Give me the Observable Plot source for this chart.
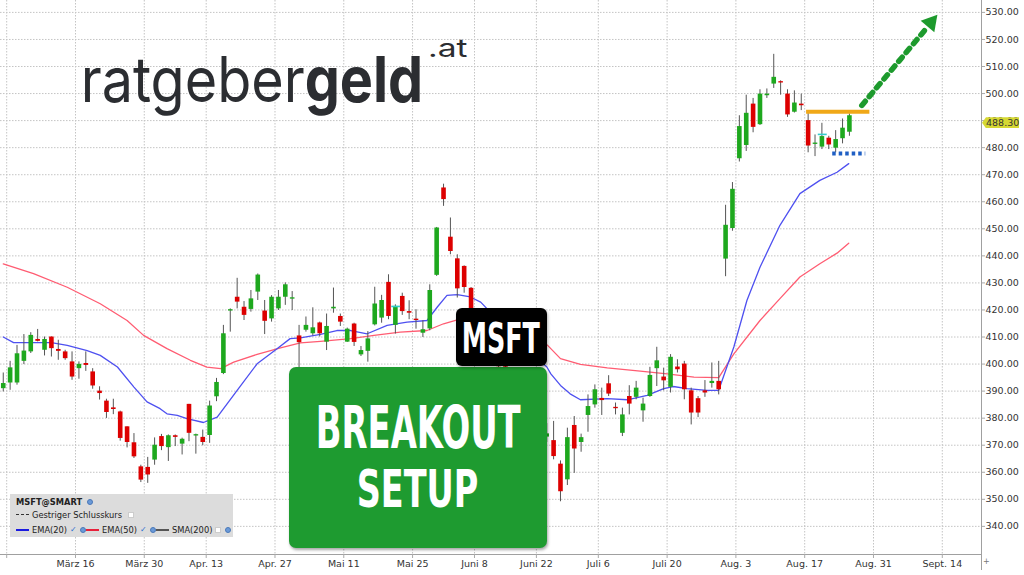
<!DOCTYPE html>
<html><head><meta charset="utf-8">
<script src="https://cdn.jsdelivr.net/npm/d3@7"></script>
<script src="https://cdn.jsdelivr.net/npm/@observablehq/plot@0.6"></script>
<style>
body{margin:0;background:#fff;}
#wrap{position:relative;width:1024px;height:575px;overflow:hidden;font-family:"DejaVu Sans",sans-serif;}
#wrap > svg{position:absolute;left:0;top:0;}
.ov{position:absolute;}
.lg{position:absolute;white-space:nowrap;line-height:10px;font-size:8.3px;color:#222;}
.gear{position:absolute;width:6px;height:6px;border-radius:50%;background:#6b9ad8;border:1px solid #4a78b8;box-sizing:border-box;}
.chk{position:absolute;width:6px;height:6px;background:#fff;border:1px solid #ccc;box-sizing:border-box;}
.tick{position:absolute;color:#2a6fd0;font-size:8px;line-height:10px;}
.ln{position:absolute;height:0;width:13px;}
</style></head><body><div id="wrap"></div>
<script>
// ---- data (candle index j starts at firstIndex; tick index 0 = "März 16") ----
const firstIndex = -11;
const open = [390.9,393.0,393.0,401.0,404.5,409.1,405.1,410.0,405.4,404.5,400.8,
 398.3,400.2,397.1,390.0,386.3,383.8,382.3,376.8,370.9,362.0,361.8,364.5,
 373.2,369.1,373.5,370.4,385.1,373.4,372.9,373.6,387.9,396.5,419.6,424.7,
 421.0,420.2,426.6,419.6,416.7,420.4,424.7,424.0,410.4,412.5,411.2,415.2,
 408.1,420.4,417.6,408.1,414.8,403.4,404.7,414.5,417.0,430.2,414.3,425.0,
 419.4,416.6,411.4,413.0,432.8,465.1,446.9,438.9,436.1,428.0,
 415,410,411,402,399,395,389,390,381,376,373.0,
 371.7,363.0,357.2,377.3,371.0,381.0,384.9,387.3,392.7,384.0,374.4,388.0,387.7,
 382.7,388.0,398.3,395.2,391.4,398.9,400.0,390.1,387.2,390.1,392.8,393.6,
 438.8,450.1,475.9,480.8,496.1,488.5,499.2,503.5,504.4,499.8,493.1,496.1,490.0,481.2,480.2,483.5,479.8,483.3,485.7];
const high = [396.7,401.0,406.9,410.9,411.6,412.8,410.0,410.0,408.8,405.1,404.5,
 400.8,404.5,398.3,391.6,387.0,387.0,382.6,376.8,374.3,362.6,365.5,372.7,
 374.0,373.8,373.8,372.6,385.1,374.1,375.6,386.3,394.7,414.3,420.4,431.7,
 423.1,427.2,433.3,423.5,425.3,427.2,430.0,426.8,414.3,417.4,420.8,415.5,
 418.5,428.1,418.5,413.3,415.1,406.5,412.0,428.4,425.4,433.0,421.9,426.2,
 423.4,420.1,416.0,429.3,450.5,466.5,454.0,440.4,436.3,428.3,
 419,414,413,406,403,398,393,392,384,380,378,
 378.8,364.2,376.3,380.6,374.1,388.6,392.3,391.1,395.7,385.6,383.7,392.0,393.6,
 387.4,398.8,406.2,398.5,403.5,401.6,401.0,391.1,388.0,393.9,400.4,401.0,
 458.7,467.1,491.8,499.4,498.2,501.4,501.7,514.5,504.7,501.4,501.0,499.8,493.1,484.7,489.0,484.2,486.3,490.6,492.5];
const low = [389.7,390.3,392.2,399.8,403.9,408.2,403.0,402.6,401.4,401.4,394.0,
 394.4,397.3,390.7,386.7,379.9,381.3,371.5,369.0,365.1,356.2,355.9,362.6,
 368.0,364.0,369.5,366.4,371.3,366.7,369.8,370.7,386.1,396.1,411.8,420.4,
 416.1,419.2,423.5,410.9,415.5,419.8,421.7,419.8,398.0,411.8,410.4,410.0,
 405.0,418.8,413.9,408.0,406.5,402.8,400.7,414.1,415.1,416.4,411.1,418.0,
 416.4,412.9,409.8,412.3,432.4,458.3,440.4,424.4,426.2,413,
 407,404,400,396,392,386,382,378,372,368,371,
 364.6,349.1,355.1,359.6,367.4,374.8,383.7,381.0,388.0,381.2,373.2,381.2,386.8,
 378.5,387.7,391.7,390.1,389.3,396.7,386.8,377.5,380.2,387.7,391.1,388.6,
 432.3,449.1,474.7,478.6,485.5,488.2,498.2,501.9,499.4,491.2,492.8,493.7,478.1,476.7,479.3,479.3,478.1,481.4,484.2];
const close = [392.8,398.6,403.8,404.8,410.6,408.4,409.1,405.7,404.7,402.0,395.2,
 399.9,399.5,391.9,389.1,382.1,383.2,372.5,371.0,365.7,357.1,359.0,370.0,
 369.5,373.5,372.9,372.2,374.4,373.9,371.0,384.5,393.2,411.2,420.1,422.9,
 418.0,424.1,432.9,415.8,424.7,424.7,429.3,424.5,407.9,414.3,413.4,411.2,
 413.9,421.0,415.5,412.9,408.0,405.0,409.3,422.2,423.5,417.6,421.3,419.4,
 418.8,416.1,412.7,427.2,450.3,460.8,441.6,427.8,428.3,416,
 409,412,402,399,394,388,391,380,375,372,374.2,
 365.8,352.8,372.8,368.6,372.8,384.3,390.5,386.5,388.9,383.5,381.2,385.2,391.1,
 385.2,395.8,401.2,393.8,402.5,397.9,390.5,381.9,381.9,389.3,393.6,390.5,
 451.3,464.6,487.8,492.7,487.5,499.8,499.8,506.0,503.9,492.1,496.5,495.5,480.6,481.7,484.1,481.0,483.0,487.2,491.8];

// EMA(20) and EMA(50): candle index, value
const ema20Idx = [-11,-9.5,-6.5,-4,-1.7,1.2,3.1,5.6,8,9.9,11.8,12.8,14.3,15.7,18.1,20.1,23,25.9,28.8,30.7,32.2,35.1,37.5,39.5,41.9,44.8,47.7,50.6,52.1,53.5,55,56.9,58.4,61,64,66,68,68.6,70,71.4,72.9,76.8,79.7,82.6,85,86.4,88.4,91.3,93,95.2,97.1,99,101.9,104.8,107.7,110.2,111.9];
const ema20Val = [410.0,407.9,407.9,407.9,406.9,405.0,403.2,398.9,391.5,386.0,383.5,381.6,381.0,379.8,378.4,380.4,390.3,400.1,405.7,409.4,409.7,411.0,412.4,412.4,411.2,414.3,415.5,416.1,421.1,425.4,425.7,424.8,422.9,416,409,403,399.0,396.4,392.1,389.0,386.8,387.2,386.8,388.4,390.9,391.7,390.9,390.3,390.3,406.3,423.5,435.8,451.3,463.0,467.9,470.9,474.1];
const ema50Idx = [-11,-6.6,-1.7,3.1,7.0,9.4,12.8,16.2,18.6,20.6,22.5,25.9,29.3,32.2,35.1,39.5,42.9,46.7,50.6,53.0,55.5,60,64,68.1,70.0,72.9,76.8,81.6,85.5,89.4,93.0,95.2,99.0,101.9,104.8,107.7,110.2,111.9];
const ema50Val = [437.0,433.4,428.4,422.3,416.1,410.6,405.7,401.4,398.9,398.3,400.7,403.6,406.0,407.8,408.4,409.4,410.6,411.8,412.4,414.9,416.7,414,410.5,407.0,402.0,399.9,398.6,397.4,396.4,395.2,395.0,403.8,416.1,424.2,432.2,437.1,441.0,444.7];

// axis ticks
const xTickPos = [-10,0,10,19,29,39,49,58,67,76,86,96,106,116,126];
const xTickLabels = ["","März 16","März 30","Apr. 13","Apr. 27","Mai 11","Mai 25","Juni 8","Juni 22","Juli 6","Juli 20","Aug. 3","Aug. 17","Aug. 31","Sept. 14"];
const yTicks = [340,350,360,370,380,390,400,410,420,430,440,450,460,470,480,490,500,510,520,530];
const xDomain = [-10.9, 131.7];
const yDomain = [329.6, 534.4];

// annotations (in data units)
const resistance = {from:106.2, to:115.4, level:493.3};
const support = {from:110.0, to:114.8, level:477.8};
const arrowPath = [{i:114.3, p:495.6},{i:123.9, p:524.75}];
const arrowHead = {i:124.33, p:526.27};
const prevClose = [{from:45.9, to:47.2, level:421.3},{from:107.9, to:109.2, level:484.9}];
const lastPrice = 488.30;

// ---- build ----
const candles = open.map((o,k)=>({i:firstIndex+k+0.5, open:o, high:high[k], low:low[k], close:close[k]}));
const ema20 = ema20Idx.map((j,k)=>({i:j+0.5, v:ema20Val[k]}));
const ema50 = ema50Idx.map((j,k)=>({i:j+0.5, v:ema50Val[k]}));
const labelOf = new Map(xTickPos.map((p,k)=>[p, xTickLabels[k]]));

const chart = Plot.plot({
  width:1024, height:575,
  marginLeft:0, marginRight:43, marginTop:0, marginBottom:21,
  x:{domain:xDomain},
  y:{domain:yDomain},
  style:{fontFamily:"DejaVu Sans", fontSize:"9.5px", color:"#333", background:"transparent"},
  marks:[
    Plot.ruleY(yTicks, {stroke:"#c4c4c4", strokeDasharray:"1.5,1.5"}),
    Plot.ruleX(xTickPos, {stroke:"#c4c4c4", strokeDasharray:"1.5,1.5"}),
    Plot.line(ema50, {x:"i", y:"v", stroke:"#ff5c72", strokeWidth:1.3}),
    Plot.line(ema20, {x:"i", y:"v", stroke:"#4e50f0", strokeWidth:1.3}),
    Plot.ruleX(candles, {x:"i", y1:"low", y2:"high", stroke:"#555", strokeWidth:1}),
    Plot.ruleX(candles, {x:"i", y1:"open", y2:"close", stroke:d=>d.close>=d.open?"#1ea81e":"#dd0000", strokeWidth:4.6, strokeLinecap:"butt"}),
    Plot.link(prevClose, {x1:"from", x2:"to", y1:"level", y2:"level", stroke:"#33cccc", strokeWidth:1.6}),
    Plot.link([resistance], {x1:"from", x2:"to", y1:"level", y2:"level", stroke:"#f0a818", strokeWidth:4}),
    Plot.link([support], {x1:"from", x2:"to", y1:"level", y2:"level", stroke:"#1f5fc4", strokeWidth:4, strokeDasharray:"3.5,3"}),
    Plot.line(arrowPath, {x:"i", y:"p", stroke:"#1d9a2d", strokeWidth:5.5, strokeDasharray:"5.5,6"}),
    Plot.dot([arrowHead], {x:"i", y:"p", symbol:"triangle", r:6.6, fill:"#1d9a2d", stroke:"none", rotate:40}),
    Plot.ruleY([yDomain[0]], {stroke:"#a0a0a0"}),
    Plot.ruleX([xDomain[1]], {stroke:"#a0a0a0"}),
    Plot.axisX(xTickPos, {anchor:"bottom", tickFormat:d=>labelOf.get(d), tickSize:4, tickPadding:2, stroke:"#aaa", fill:"#333", label:null, fontSize:9.5}),
    Plot.axisY(yTicks, {anchor:"right", tickFormat:d=>d.toFixed(2), tickSize:3, tickPadding:1, stroke:"#aaa", fill:"#333", label:null, fontSize:9.5})
  ]
});
const wrap = document.getElementById("wrap");
wrap.appendChild(chart);

const ys = chart.scale("y");
const tagY = ys.apply(lastPrice);
const cond = "'Liberation Sans Narrow','DejaVu Sans Condensed','DejaVu Sans'";

const ov = document.createElement("div");
ov.innerHTML = `
<svg class="ov" style="left:0;top:0" width="520" height="130">
  <text class="fit" data-x="80.7" data-y="101.7" data-w="342.6" font-family="Inter" font-size="63" fill="#2b2d31">ratgeber<tspan font-weight="700">geld</tspan></text>
  <text class="fit" data-x="428" data-y="56.5" data-w="39.5" font-family="Inter" font-size="25" fill="#2b2d31">.at</text>
</svg>
<div class="ov" style="left:289px;top:367px;width:258px;height:181px;background:#1e9b30;border-radius:7px;box-shadow:1px 2px 3px rgba(0,0,0,0.35)">
  <svg width="258" height="181" style="position:absolute;left:0;top:0">
    <text class="fit" data-x="26.7" data-y="81.3" data-w="205" font-family="${cond}" font-weight="700" font-size="59" fill="#fff">BREAKOUT</text>
    <text class="fit" data-x="67.7" data-y="139.7" data-w="121.6" font-family="${cond}" font-weight="700" font-size="52" fill="#fff">SETUP</text>
  </svg>
</div>
<div class="ov" style="left:456px;top:308px;width:91px;height:58px;background:#000;border-radius:6px;box-shadow:1px 2px 3px rgba(0,0,0,0.3)">
  <svg width="91" height="58" style="position:absolute;left:0;top:0">
    <text class="fit" data-x="5.7" data-y="45.3" data-w="78.3" font-family="${cond}" font-weight="700" font-size="42" fill="#fff">MSFT</text>
  </svg>
</div>
<div class="ov" style="left:10px;top:494px;width:223px;height:43px;background:#dcdcdc;">
  <span class="lg" style="left:6px;top:3px;font-weight:bold">MSFT@SMART</span>
  <span class="gear" style="left:77px;top:5px"></span>
  <span class="ln" style="left:6px;top:20px;border-top:1.5px dashed #333"></span>
  <span class="lg" style="left:22px;top:16px">Gestriger Schlusskurs</span>
  <span class="chk" style="left:118px;top:18px"></span>
  <span class="ln" style="left:6px;top:35px;border-top:2px solid #1a1ae0"></span>
  <span class="lg" style="left:22px;top:31px">EMA(20)</span>
  <span class="tick" style="left:60px;top:31px">✓</span>
  <span class="gear" style="left:70px;top:33px"></span>
  <span class="ln" style="left:76px;top:35px;border-top:2px solid #e8203a"></span>
  <span class="lg" style="left:92px;top:31px">EMA(50)</span>
  <span class="tick" style="left:130px;top:31px">✓</span>
  <span class="gear" style="left:140px;top:33px"></span>
  <span class="ln" style="left:146px;top:35px;border-top:2px solid #555"></span>
  <span class="lg" style="left:162px;top:31px">SMA(200)</span>
  <span class="chk" style="left:205px;top:33px"></span>
  <span class="gear" style="left:215px;top:33px"></span>
</div>
<div class="ov" style="left:982px;top:${(tagY-7.5).toFixed(1)}px;width:37px;height:11px;background:#d6d833;clip-path:polygon(0 50%,4px 0,100% 0,100% 100%,4px 100%);"></div>
<div class="ov" style="left:986px;top:${(tagY-7.5).toFixed(1)}px;height:11px;line-height:11px;font-size:9.5px;color:#333">${lastPrice.toFixed(2)}</div>
<div class="ov" style="left:981px;top:554px;width:1px;height:16px;background:#a0a0a0"></div>
<div class="ov" style="left:983px;top:557px;font-size:8px;color:#777">+</div>
`;
wrap.appendChild(ov);
// squeeze texts horizontally to the widths measured on the reference
ov.querySelectorAll("text.fit").forEach(t => {
  const w = t.getComputedTextLength();
  const x = +t.dataset.x, y = +t.dataset.y, tw = +t.dataset.w;
  t.setAttribute("transform", `translate(${x},${y}) scale(${(tw / w).toFixed(4)},1)`);
});
</script>
</body></html>
